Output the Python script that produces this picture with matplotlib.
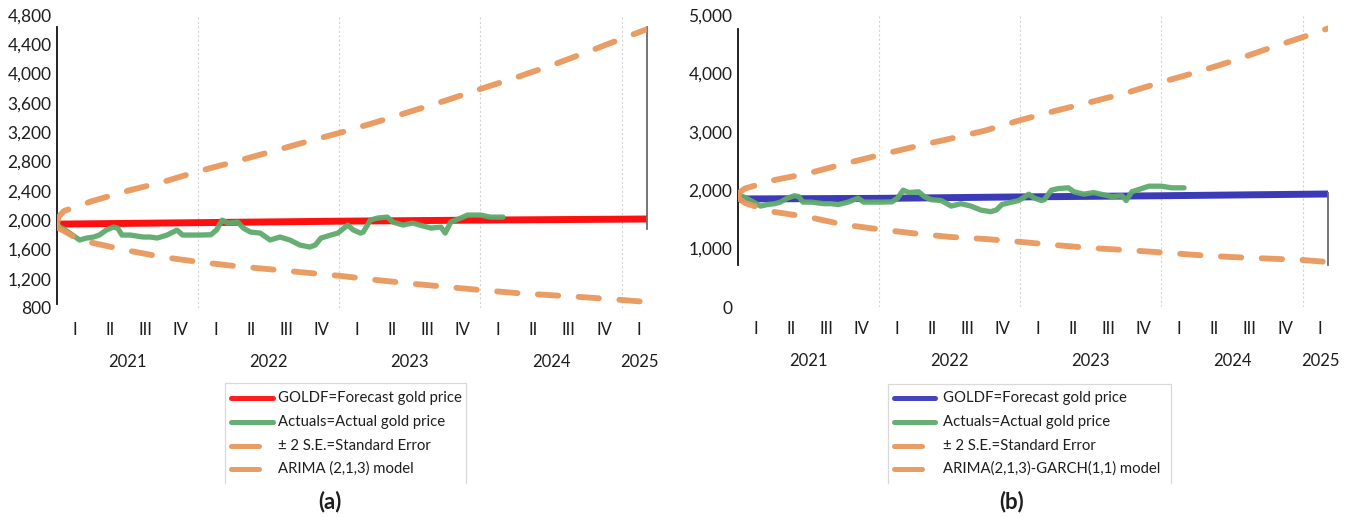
import matplotlib
matplotlib.use("Agg")
import matplotlib.pyplot as plt
from matplotlib.lines import Line2D

plt.rcParams['font.family'] = ['Lato', 'DejaVu Sans']

# ---------------- data ----------------
START = 2021.0
END = 2025.18

# actual gold price (years since start of 2021, USD/oz)
actual_t = [0.00, 0.07, 0.16, 0.21, 0.26, 0.30, 0.35, 0.40, 0.43, 0.46, 0.52, 0.61,
            0.66, 0.71, 0.78, 0.85, 0.89, 0.96, 1.01, 1.09, 1.13, 1.17, 1.21, 1.28,
            1.32, 1.37, 1.44, 1.51, 1.58, 1.65, 1.72, 1.79, 1.83, 1.87, 1.94, 1.99,
            2.06, 2.10, 2.15, 2.17, 2.22, 2.27, 2.34, 2.38, 2.45, 2.52, 2.57, 2.65,
            2.72, 2.75, 2.79, 2.86, 2.91, 3.00, 3.07, 3.16]
actual_gold = [1930, 1850, 1728, 1755, 1769, 1796, 1864, 1905, 1891, 1796, 1796, 1769,
               1769, 1755, 1796, 1864, 1796, 1796, 1796, 1800, 1864, 2000, 1960, 1973,
               1891, 1837, 1823, 1728, 1769, 1728, 1660, 1632, 1660, 1755, 1796, 1823,
               1932, 1864, 1823, 1837, 2000, 2028, 2041, 1973, 1932, 1960, 1932, 1891,
               1905, 1823, 1973, 2028, 2069, 2069, 2041, 2041]

band_t = [0.0, 0.01, 0.05, 0.15, 0.25, 0.5, 0.75, 1.0, 1.25, 1.5, 1.75, 2.0,
          2.25, 2.5, 2.75, 3.0, 3.25, 3.5, 3.75, 4.0, 4.18]

# (a) ARIMA(2,1,3)
arima_fc_t = [0.0, 1.0, 2.0, 3.0, 4.18]
arima_fc = [1945, 1965, 1985, 2000, 2015]
arima_upper = [1940, 2040, 2125, 2190, 2260, 2400, 2520, 2665, 2792, 2925, 3060, 3190,
               3330, 3480, 3630, 3790, 3945, 4110, 4290, 4475, 4606]
arima_lower = [1940, 1890, 1850, 1740, 1690, 1585, 1495, 1430, 1375, 1330, 1285, 1240,
               1185, 1135, 1090, 1045, 1005, 975, 945, 910, 882]

# (b) ARIMA(2,1,3)-GARCH(1,1)
garch_fc_t = [0.0, 1.0, 2.0, 3.0, 4.18]
garch_fc = [1850, 1860, 1885, 1905, 1935]
garch_upper = [1900, 1960, 2030, 2100, 2170, 2290, 2450, 2600, 2745, 2880, 3020, 3200,
               3360, 3510, 3665, 3850, 4020, 4210, 4420, 4620, 4770]
garch_lower = [1900, 1850, 1780, 1700, 1630, 1540, 1410, 1330, 1260, 1200, 1165, 1115,
               1060, 1010, 975, 935, 890, 855, 830, 805, 770]

years = [2021, 2022, 2023, 2024, 2025]
quarters = ['I', 'II', 'III', 'IV']
yticks_a = [800, 1200, 1600, 2000, 2400, 2800, 3200, 3600, 4000, 4400, 4800]
yticks_b = [0, 1000, 2000, 3000, 4000, 5000]

legend_a = ['GOLDF=Forecast gold price', 'Actuals=Actual gold price',
            '\u00b1 2 S.E.=Standard Error', 'ARIMA (2,1,3) model']
legend_b = ['GOLDF=Forecast gold price', 'Actuals=Actual gold price',
            '\u00b1 2 S.E.=Standard Error', 'ARIMA(2,1,3)-GARCH(1,1) model']

# ---------------- style ----------------
RED = '#FF1010'
BLUE = '#3B3BB8'
GREEN = '#5EAA6C'
ORANGE = '#E8975C'
TXT = '#1e1e1e'

W, H = 1351, 517
fig = plt.figure(figsize=(W / 100, H / 100), dpi=100)


def make_axes(left, bottom, right, top):
    return fig.add_axes([left / W, 1 - bottom / H, (right - left) / W, (bottom - top) / H])


def style_axes(ax, ylim, yticks, lspine, rspine):
    ax.set_xlim(START, END)
    ax.set_ylim(*ylim)
    for s in ['top', 'bottom']:
        ax.spines[s].set_visible(False)
    ax.spines['left'].set_bounds(*lspine)
    ax.spines['left'].set_color('#111111')
    ax.spines['left'].set_linewidth(1.3)
    ax.spines['right'].set_bounds(*rspine)
    ax.spines['right'].set_color('#6a6a6a')
    ax.spines['right'].set_linewidth(1.3)
    ax.axvline(END, color='#efefef', lw=0.8, zorder=0)
    ax.set_yticks(yticks)
    ax.set_yticklabels([f"{v:,}" for v in yticks])
    ax.tick_params(axis='y', length=0, pad=4, labelsize=12.5, labelcolor=TXT)
    # x: quarters (minor) and years (major)
    qpos, qlab = [], []
    for y in years[:-1]:
        for i, q in enumerate(quarters):
            qpos.append(y + (i + 0.5) * 0.25)
            qlab.append(q)
    qpos.append(years[-1] + 0.125)
    qlab.append('I')
    ypos = [y + 0.5 for y in years[:-1]] + [years[-1] + 0.125]
    ax.xaxis.remove_overlapping_locs = False
    ax.set_xticks(ypos)
    ax.set_xticklabels([str(y) for y in years])
    ax.set_xticks(qpos, minor=True)
    ax.set_xticklabels(qlab, minor=True)
    ax.tick_params(axis='x', which='minor', length=0, pad=10, labelsize=12, labelcolor=TXT)
    ax.tick_params(axis='x', which='major', length=0, pad=33, labelsize=12, labelcolor=TXT)
    for y in years[1:]:
        ax.axvline(y, color='#d4d4d4', lw=0.8, ls=(0, (2, 2)), zorder=0)


def draw(ax, fc_t, fc, fc_color, upper, lower):
    ax.plot([START + t for t in fc_t], fc, color=fc_color, lw=5, solid_capstyle='butt', zorder=2)
    ax.plot([START + t for t in actual_t], actual_gold, color=GREEN, lw=3.8,
            solid_joinstyle='round', solid_capstyle='round', alpha=0.95, zorder=3)
    for band in (upper, lower):
        ax.plot([START + t for t in band_t], band, color=ORANGE, lw=4.2,
                dashes=(3.5, 3.5), dash_capstyle='round', alpha=0.95, zorder=4)


ax_a = make_axes(57, 308, 647, 15)
style_axes(ax_a, (800, 4800), yticks_a, (855, 4634), (1878, 4634))
draw(ax_a, arima_fc_t, arima_fc, RED, arima_upper, arima_lower)

ax_b = make_axes(738, 307, 1328, 15)
style_axes(ax_b, (0, 5000), yticks_b, (719, 4760), (719, 1952))
draw(ax_b, garch_fc_t, garch_fc, BLUE, garch_upper, garch_lower)

# ---------------- legends & panel labels (overlay in pixel coords) ----------------
ov = fig.add_axes([0, 0, 1, 1], zorder=10)
ov.set_xlim(0, W)
ov.set_ylim(H, 0)
ov.axis('off')
ov.patch.set_alpha(0)


def legend(x0, x1, top, bottom, fc_color, labels, long_end, short_end, text_x):
    box = '#d9d9d9'
    ov.add_line(Line2D([x0, x0, x1, x1], [bottom, top, top, bottom], color=box, lw=0.9))
    rows = [398, 422, 446, 469]
    colors = [fc_color, GREEN, ORANGE, ORANGE]
    ends = [long_end, long_end, short_end, short_end]
    for r, c, e, lab in zip(rows, colors, ends, labels):
        ov.add_line(Line2D([x0 + 6, e], [r, r], color=c, lw=3.6, solid_capstyle='round', alpha=0.95))
        ov.text(text_x, r, lab, fontsize=10.7, color=TXT, va='center', ha='left')


legend(225, 466, 383, 483, RED, legend_a, 273, 259, 278)
legend(888, 1171, 384, 483, BLUE, legend_b, 935, 922, 943)

ov.text(330, 502, '(a)', fontsize=16, fontweight='bold', ha='center', va='center', color=TXT)
ov.text(1012, 502, '(b)', fontsize=16, fontweight='bold', ha='center', va='center', color=TXT)

fig.savefig('out.png', dpi=100)
